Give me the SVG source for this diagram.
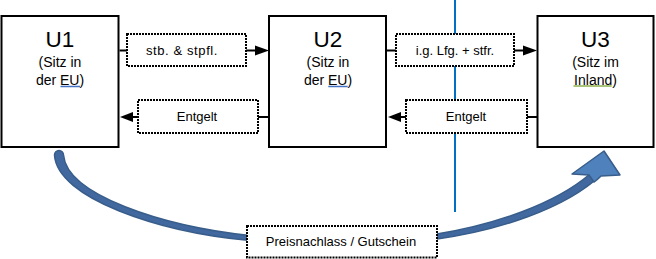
<svg xmlns="http://www.w3.org/2000/svg" width="656" height="259" viewBox="0 0 656 259">
<style>
.node{fill:#fff;stroke:#000;stroke-width:2}
.lbl{fill:#fff;stroke:#000;stroke-width:2;stroke-dasharray:2 1}
.t{font-family:"Liberation Sans",Arial,sans-serif;fill:#000;text-anchor:middle}
.big{font-size:22.5px}
.sm{font-size:14px}
.lt{font-size:13px}
.conn{stroke:#000;stroke-width:2;fill:none}
.head{fill:#000}
.curve{fill:#4169A0;stroke:#385D8A;stroke-width:1.5;stroke-linejoin:round}
.ahead{fill:#4F81BD;stroke:#385D8A;stroke-width:1.5;stroke-linejoin:round}
</style>
<rect width="656" height="259" fill="#fff"/>
<line x1="455" y1="0" x2="455" y2="212" stroke="#0070C0" stroke-width="2"/>
<g id="connectors">
<line class="conn" x1="119.5" y1="50.5" x2="257" y2="50.5"/>
<polygon class="head" points="255,45.5 269,50.5 255,55.5"/>
<line class="conn" x1="269" y1="117" x2="131" y2="117"/>
<polygon class="head" points="120,117 133,112 133,122"/>
<line class="conn" x1="387" y1="50.5" x2="525" y2="50.5"/>
<polygon class="head" points="523,45.5 537,50.5 523,55.5"/>
<line class="conn" x1="537" y1="117" x2="399" y2="117"/>
<polygon class="head" points="388,117 401,112 401,122"/>
<path class="curve" d="M63.5,155 C67,195 162,226 250,235.5 L250,240.5 C158,232 57,198 54.5,155 A4.5,4.5 0 0 1 63.5,155 Z"/>
<path class="curve" d="M434,234.5 C494,225 555,204 590,174 L601,175 C565,209 497,231 434,239.5 Z"/>
<path class="ahead" d="M589,175 L572,174 L604,151 L620,175 L601,176 C598,179 596,181 594,182 Z"/>
</g>
<g id="U1">
<rect class="node" x="1.5" y="16" width="117" height="131"/>
<text class="t big" x="60" y="46.5">U1</text>
<text class="t sm" x="60" y="66.5">(Sitz in</text>
<text class="t sm" x="60" y="84.5">der EU)</text>
<line x1="60.5" y1="86.5" x2="80" y2="86.5" stroke="#4472C4" stroke-width="1.5"/>
</g>
<g id="U2">
<rect class="node" x="269" y="16" width="117" height="131"/>
<text class="t big" x="328" y="46.5">U2</text>
<text class="t sm" x="328" y="66.5">(Sitz in</text>
<text class="t sm" x="328" y="84.5">der EU)</text>
<line x1="328.3" y1="86.5" x2="347.7" y2="86.5" stroke="#4472C4" stroke-width="1.5"/>
</g>
<g id="U3">
<rect class="node" x="537.5" y="16" width="116" height="131"/>
<text class="t big" x="595.5" y="46.5">U3</text>
<text class="t sm" x="595.5" y="66.5">(Sitz im</text>
<text class="t sm" x="595.5" y="84.5">Inland)</text>
<line x1="573.5" y1="86" x2="611.7" y2="86" stroke="#8DB14B" stroke-width="1.5"/>
</g>
<g id="L1">
<rect class="lbl" x="127" y="34" width="119" height="32"/>
<text class="t lt" x="182" y="55" letter-spacing="0.6">stb. &amp; stpfl.</text>
</g>
<g id="L2">
<rect class="lbl" x="138" y="100" width="120" height="33"/>
<text class="t lt" x="197" y="121">Entgelt</text>
</g>
<g id="L3">
<rect class="lbl" x="396" y="34" width="118" height="32"/>
<text class="t lt" x="455" y="55">i.g. Lfg. + stfr.</text>
</g>
<g id="L4">
<rect class="lbl" x="406" y="100" width="121" height="33"/>
<text class="t lt" x="466" y="121">Entgelt</text>
</g>
<g id="L5">
<rect class="lbl" x="247" y="226" width="190" height="31.5"/>
<text class="t lt" x="341" y="246">Preisnachlass / Gutschein</text>
</g>
</svg>
